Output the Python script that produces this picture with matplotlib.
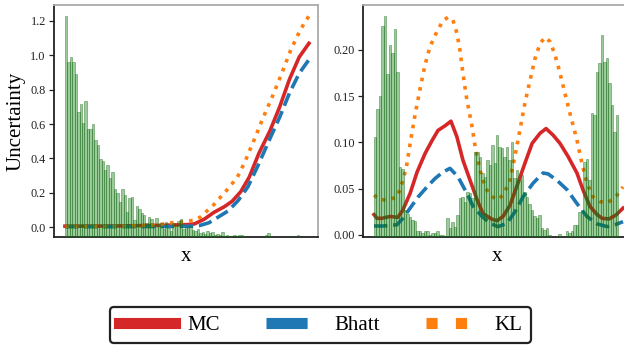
#!/usr/bin/env python3
#
# plot.py - uncertainty curves (MC / Bhatt / KL) with data histograms
#

import numpy as np
import matplotlib
matplotlib.use("Agg")
import matplotlib.pyplot as plt

#%%============================================================================
# Data
#==============================================================================
# left panel, x in [0, 1]
left_mc_x = [0, 0.2, 0.4, 0.5, 0.53, 0.57, 0.61, 0.655, 0.685, 0.72, 0.755,
             0.795, 0.84, 0.88, 0.92, 0.96, 1.0]
left_mc_y = [0.005, 0.006, 0.010, 0.014, 0.018, 0.045, 0.085, 0.12, 0.15,
             0.205, 0.29, 0.43, 0.56, 0.70, 0.86, 0.99, 1.07]

left_bh_x = [0, 0.2, 0.4, 0.5, 0.55, 0.59, 0.63, 0.67, 0.71, 0.75, 0.79,
             0.84, 0.88, 0.92, 0.96, 1.0]
left_bh_y = [0.002, 0.002, 0.003, 0.004, 0.008, 0.025, 0.06, 0.095, 0.155,
             0.235, 0.355, 0.515, 0.64, 0.78, 0.895, 0.975]

left_kl_x = [0, 0.2, 0.35, 0.4, 0.45, 0.49, 0.53, 0.555, 0.58, 0.61, 0.63,
             0.655, 0.68, 0.705, 0.72, 0.737, 0.752, 0.767, 0.782, 0.81,
             0.85, 0.89, 0.925, 0.965, 1.0]
left_kl_y = [0.003, 0.004, 0.010, 0.017, 0.027, 0.031, 0.040, 0.058, 0.091,
             0.13, 0.163, 0.20, 0.245, 0.285, 0.33, 0.377, 0.43, 0.48, 0.53,
             0.63, 0.76, 0.90, 1.03, 1.15, 1.23]

# left histogram, 100 bins over [0, 1]
left_hist = [221, 175, 180, 175, 163, 125, 133, 114, 136, 108,
             108, 113, 97, 92, 78, 76, 67, 72, 59, 65,
             48, 44, 35, 48, 42, 25, 39, 40, 17, 31,
             28, 24, 22, 14, 20, 18, 12, 19, 10, 14,
             8, 15, 9, 6, 14, 12, 16, 18, 8, 10,
             9, 11, 7, 6, 8, 4, 5, 3, 6, 4,
             5, 2, 3, 2, 5, 1, 2, 1, 0, 2,
             1, 2, 2, 1, 0, 0, 0, 0, 0, 0,
             0, 0, 2, 4, 1, 0, 0, 0, 0, 0,
             0, 0, 0, 0, 0, 2, 0, 0, 0, 0]

# right panel, x in [0, 1]
right_mc_x = [0, 0.012, 0.032, 0.064, 0.096, 0.116, 0.145, 0.173, 0.205,
              0.233, 0.257, 0.285, 0.309, 0.333, 0.357, 0.386, 0.414, 0.438,
              0.474, 0.494, 0.518, 0.546, 0.578, 0.606, 0.635, 0.667, 0.691,
              0.719, 0.747, 0.779, 0.815, 0.839, 0.867, 0.896, 0.916, 0.944,
              0.972, 1.0]
right_mc_y = [0.022, 0.018, 0.018, 0.020, 0.019, 0.027, 0.045, 0.068, 0.088,
              0.102, 0.113, 0.118, 0.123, 0.106, 0.081, 0.059, 0.038, 0.023,
              0.017, 0.0155, 0.020, 0.032, 0.056, 0.0775, 0.099, 0.110, 0.115,
              0.108, 0.099, 0.085, 0.067, 0.049, 0.031, 0.022, 0.018, 0.0173,
              0.0216, 0.029]

right_bh_x = [0, 0.036, 0.092, 0.116, 0.145, 0.177, 0.213, 0.245, 0.277,
              0.305, 0.337, 0.373, 0.398, 0.434, 0.466, 0.498, 0.534, 0.566,
              0.598, 0.639, 0.679, 0.699, 0.735, 0.775, 0.815, 0.855, 0.896,
              0.936, 0.968, 1.0]
right_bh_y = [0.0097, 0.0097, 0.011, 0.018, 0.029, 0.041, 0.052, 0.061, 0.068,
              0.072, 0.063, 0.045, 0.031, 0.020, 0.0126, 0.009, 0.0126, 0.025,
              0.041, 0.056, 0.067, 0.066, 0.059, 0.049, 0.034, 0.020, 0.012,
              0.009, 0.011, 0.0144]

right_kl_x = [0, 0.024, 0.056, 0.092, 0.104, 0.116, 0.129, 0.137, 0.149,
              0.165, 0.185, 0.205, 0.225, 0.253, 0.277, 0.297, 0.317, 0.333,
              0.345, 0.357, 0.373, 0.394, 0.406, 0.426, 0.446, 0.466, 0.494,
              0.518, 0.546, 0.566, 0.586, 0.606, 0.627, 0.647, 0.667, 0.687,
              0.707, 0.727, 0.747, 0.767, 0.787, 0.815, 0.835, 0.855, 0.880,
              0.908, 0.940, 0.976, 1.0]
right_kl_y = [0.043, 0.038, 0.038, 0.041, 0.049, 0.059, 0.072, 0.085, 0.105,
              0.13, 0.158, 0.184, 0.2036, 0.22, 0.2317, 0.2353, 0.2324, 0.218,
              0.20, 0.175, 0.146, 0.117, 0.0955, 0.070, 0.052, 0.043, 0.038,
              0.043, 0.059, 0.085, 0.1135, 0.1424, 0.1676, 0.191, 0.207,
              0.2137, 0.209, 0.1946, 0.175, 0.153, 0.1315, 0.1027, 0.0775,
              0.056, 0.041, 0.036, 0.035, 0.043, 0.052]

right_hist = [100, 128, 141, 211, 221, 163, 192, 184, 208, 165,
              70, 68, 27, 23, 20, 17, 16, 6, 6, 4,
              6, 6, 2, 4, 4, 6, 2, 2, 1, 19,
              9, 15, 10, 22, 39, 40, 35, 45, 44, 39,
              85, 85, 80, 64, 60, 77, 72, 92, 74, 102,
              90, 89, 80, 90, 77, 95, 59, 67, 57, 62,
              45, 40, 33, 27, 21, 19, 22, 9, 7, 9,
              2, 0, 0, 0, 3, 0, 0, 6, 4, 6,
              12, 12, 25, 27, 75, 78, 57, 124, 122, 165,
              174, 202, 175, 179, 154, 132, 105, 122, 0, 0]

labels = ["MC", "Bhatt", "KL"]

#%%============================================================================
# Style
#==============================================================================
plt.rcParams['font.family'] = ['Liberation Serif', 'DejaVu Serif']
c_mc = '#d62728'
c_bh = '#1f77b4'
c_kl = '#ff7f0e'
W, H = 624, 350


def style_axes(ax):
    ax.set_xticks([])
    for s in ['left', 'bottom']:
        ax.spines[s].set_color('#222222')
        ax.spines[s].set_linewidth(1.3)
    for s in ['top', 'right']:
        ax.spines[s].set_color('#aaaaaa')
        ax.spines[s].set_linewidth(1.3)
    ax.tick_params(axis='y', length=3.5, width=0.9, labelsize=8.8,
                   colors='#222222', pad=2.5)
    ax.set_xlabel('x', fontsize=15, labelpad=7)


def draw_hist(ax, heights):
    ax2 = ax.twinx()
    n = len(heights)
    edges = np.linspace(0, 1, n + 1)
    centers = 0.5*(edges[:-1] + edges[1:])
    ax2.bar(centers, heights, width=edges[1] - edges[0],
            facecolor=(0.0, 0.5, 0.0, 0.40), edgecolor=(0.1, 0.4, 0.1, 0.45),
            linewidth=0.6)
    ax2.set_ylim(0, max(heights)*1.05)
    ax2.set_yticks([])
    for s in ax2.spines.values():
        s.set_visible(False)
    return ax2


fig = plt.figure(figsize=(W/100, H/100), dpi=100)
ax1 = fig.add_axes([54/W, 1 - 237/H, 264/W, 232/H])
ax3 = fig.add_axes([363/W, 1 - 237/H, 268/W, 232/H])

# left panel
l1, = ax1.plot(left_mc_x, left_mc_y, color=c_mc, lw=2.6, label=labels[0])
l2, = ax1.plot(left_bh_x, left_bh_y, color=c_bh, lw=2.6, ls='--',
               label=labels[1])
l3, = ax1.plot(left_kl_x, left_kl_y, color=c_kl, lw=2.6, ls=':',
               label=labels[2])
ax1.set_xlim(-0.045, 1.037)
ax1.set_ylim(-0.058, 1.293)
ax1.set_yticks([0.0, 0.2, 0.4, 0.6, 0.8, 1.0, 1.2])
style_axes(ax1)
ax1.set_ylabel('Uncertainty', fontsize=15)
ax1.yaxis.set_label_coords((26 - 54)/264, 0.5)
draw_hist(ax1, left_hist)

# right panel
ax3.plot(right_mc_x, right_mc_y, color=c_mc, lw=2.6)
ax3.plot(right_bh_x, right_bh_y, color=c_bh, lw=2.6, ls='--')
ax3.plot(right_kl_x, right_kl_y, color=c_kl, lw=2.6, ls=':')
ax3.set_xlim(-11/249, 1 + 8/249)
ax3.set_ylim(-0.0022, 0.2486)
ax3.set_yticks([0.0, 0.05, 0.10, 0.15, 0.20])
style_axes(ax3)
draw_hist(ax3, right_hist)

# legend
leg = fig.legend(handles=[l1, l2, l3], loc='center', ncol=3,
                 bbox_to_anchor=(320.5/W, 1 - 325/H), fontsize=15,
                 handlelength=2.7, handletextpad=0.6, columnspacing=2.2,
                 frameon=True, fancybox=True, borderpad=0.4)
leg.get_frame().set_edgecolor('#222222')
leg.get_frame().set_linewidth(1.6)
leg.get_frame().set_alpha(1)
for ln in leg.get_lines():
    ln.set_linewidth(8)

fig.savefig('out.png', dpi=100)
